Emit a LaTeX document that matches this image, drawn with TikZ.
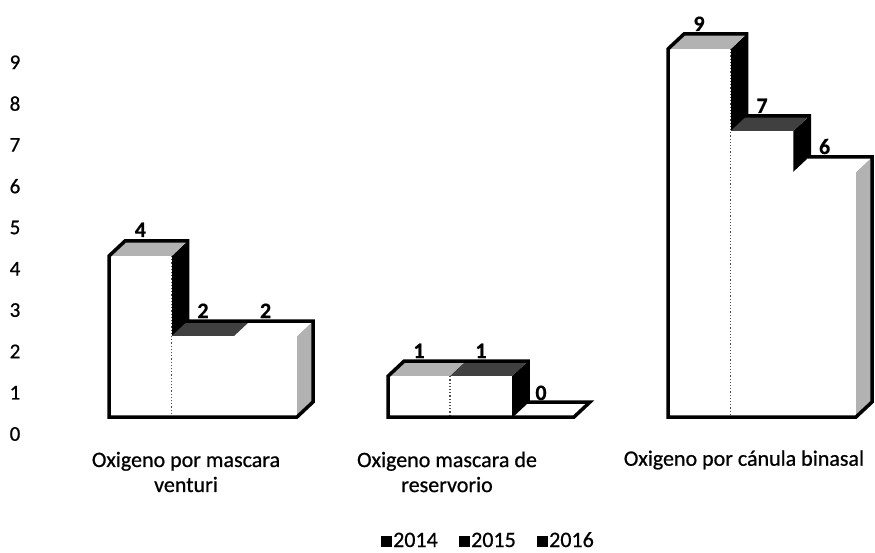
\documentclass[tikz,border=0pt]{standalone}
\usepackage{fontspec}
\setmainfont{Carlito}
\newfontfamily\scanfont{Carlito}[FakeBold=0.7]
\newfontfamily\scanbold{Carlito Bold}[FakeBold=0.5]
\newcommand\mybar[5]{%
  \fill[#5] (#2,#3) -- ++(16,-15) -- (#2+16,402) -- (#2,417) -- cycle;
  \fill[#4] (#1,#3) -- ++(16,-15) -- (#2+16,#3-15) -- (#2,#3) -- cycle;
  \fill[white] (#1,#3) rectangle (#2,417);
}
\tikzset{
  outline/.style={draw=black,line width=3.5pt,line join=miter},
  sep/.style={draw=black!70,line width=1.2pt,dotted},
  axislbl/.style={font=\scanfont\fontsize{21}{24}\selectfont,inner sep=0pt},
  vallbl/.style={font=\scanbold\fontsize{22}{24}\selectfont,anchor=base,inner sep=0pt},
  catlbl/.style={font=\scanfont\fontsize{22}{25}\selectfont,align=center,inner sep=0pt},
  legsq/.style={fill=black,minimum size=11pt,inner sep=0pt},
  legtxt/.style={font=\scanfont\fontsize{22}{24}\selectfont,anchor=base west,inner sep=0pt},
}
\begin{document}
\begin{tikzpicture}[x=1pt,y=-1pt]
\useasboundingbox (0,0) rectangle (875,553);
% axis labels
\foreach \k in {0,...,9}{
  \node[axislbl] (ax\k) at (15,{434-41.3*\k}) {\k};
}
% group 1
\mybar{109}{171.7}{256}{gray!60}{black}
\mybar{171.7}{234.3}{336}{black!75}{black}
\mybar{234.3}{297}{336}{white}{gray!60}
\draw[sep] (171.7,256) -- (171.7,417);
\draw[outline] (109,417) -- (109,256) -- (125,241) -- (187.7,241) -- (187.7,321)
  -- (313,321) -- (313,402) -- (297,417) -- cycle;
\node[vallbl] (v11) at (140.4,237) {4};
\node[vallbl] (v12) at (203,318) {2};
\node[vallbl] (v13) at (265.6,318) {2};
% group 2
\mybar{388}{450}{376.2}{gray!60}{black}
\mybar{450}{512}{376.2}{black!75}{black}
\mybar{512}{574}{417}{white}{gray!60}
\draw[sep] (450,376.2) -- (450,417);
\draw[outline] (388,417) -- (388,376.2) -- (404,361.2) -- (528,361.2) -- (528,402)
  -- (590,402) -- (574,417) -- cycle;
\draw[line width=1.5pt] (512,417) -- (528,402);
\node[vallbl] (v21) at (419,358) {1};
\node[vallbl] (v22) at (481,358) {1};
\node[vallbl] (v23) at (541,400) {0};
% group 3
\mybar{668}{730.7}{49}{gray!60}{black}
\mybar{730.7}{793.3}{131}{black!75}{black}
\mybar{793.3}{856}{172}{white}{gray!60}
\draw[sep] (730.7,49) -- (730.7,417);
\draw[outline] (668,417) -- (668,49) -- (684,34) -- (746.7,34) -- (746.7,116)
  -- (809.3,116) -- (809.3,157) -- (872,157) -- (872,402) -- (856,417) -- cycle;
\node[vallbl] (v31) at (699,31) {9};
\node[vallbl] (v32) at (762,113) {7};
\node[vallbl] (v33) at (824.6,154) {6};
% categories
\node[catlbl] (c1) at (186,472) {Oxigeno por mascara\\venturi};
\node[catlbl] (c2) at (447,472) {Oxigeno mascara de\\reservorio};
\node[catlbl] (c3) at (744,460) {Oxigeno por cánula binasal};
% legend
\node[legsq] (s1) at (386,541) {};
\node[legtxt] (l1) at (393,547) {2014};
\node[legsq] (s2) at (464,541) {};
\node[legtxt] (l2) at (471,547) {2015};
\node[legsq] (s3) at (542,541) {};
\node[legtxt] (l3) at (549,547) {2016};
\end{tikzpicture}
\end{document}
